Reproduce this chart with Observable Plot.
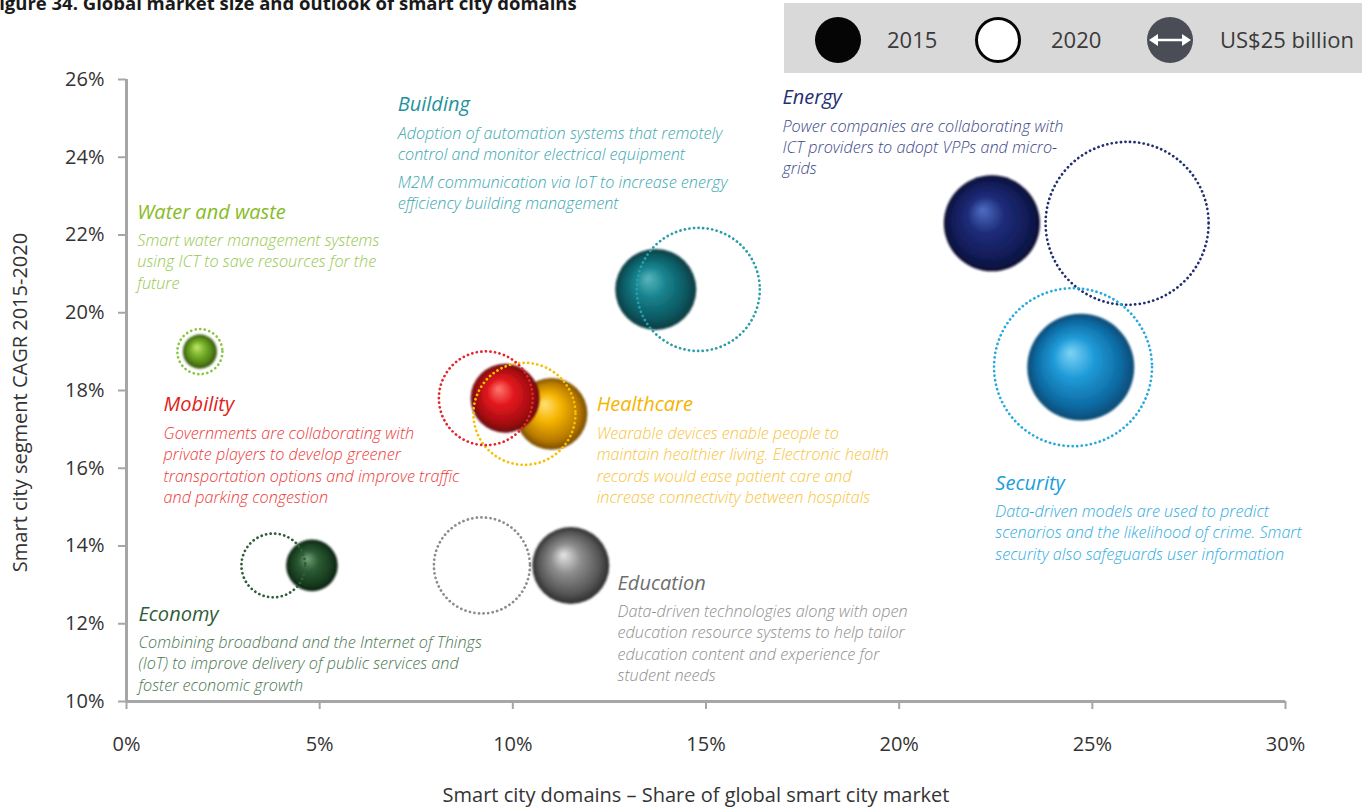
<!DOCTYPE html>
<html>
<head>
<meta charset="utf-8">
<script src="https://cdn.jsdelivr.net/npm/d3@7"></script>
<script src="https://cdn.jsdelivr.net/npm/@observablehq/plot@0.6"></script>
<style>
  body { margin: 0; background: #fff; font-family: "Open Sans", sans-serif; }
  #wrap { position: relative; width: 1367px; height: 808px; overflow: hidden; }
  #chart { position: absolute; left: 0; top: 0; }
  #title { position: absolute; left: -11px; top: -6px; font-size: 18.5px; font-weight: 700; line-height: 18px; color: #1a1a1a; white-space: nowrap; }
  #legend { position: absolute; left: 784px; top: 3px; width: 578px; height: 70px; background: #d9d9d9; }
  #legend .sw { position: absolute; top: 14px; width: 46px; height: 46px; border-radius: 50%; box-sizing: border-box; }
  #legend .lab { position: absolute; top: 1px; line-height: 70px; font-size: 22px; color: #3a3a3a; white-space: nowrap; }
</style>
</head>
<body>
<div id="wrap">
  <div id="chart"></div>
  <div id="title">Figure 34. Global market size and outlook of smart city domains</div>
  <div id="legend">
    <div class="sw" style="left:31px;background:#050505;"></div>
    <div class="lab" style="left:103px;">2015</div>
    <div class="sw" style="left:191px;background:#fff;border:3px solid #050505;"></div>
    <div class="lab" style="left:267px;">2020</div>
    <div class="sw" style="left:363px;background:#4a4d55;">
      <svg width="46" height="46" viewBox="0 0 46 46">
        <line x1="8" y1="23" x2="38" y2="23" stroke="#fff" stroke-width="2.5"/>
        <path d="M2,23 L11,17 L11,29 Z" fill="#fff"/>
        <path d="M44,23 L35,17 L35,29 Z" fill="#fff"/>
      </svg>
    </div>
    <div class="lab" style="left:436px;">US$25 billion</div>
  </div>
</div>
<script>
// ---- Data ----
const domains   = ["Water and waste", "Building", "Energy", "Security", "Mobility", "Healthcare", "Economy", "Education"];
const keys      = ["water", "building", "energy", "security", "mobility", "healthcare", "economy", "education"];
// Share of global smart city market (%)
const share2015 = [1.9, 13.7, 22.4, 24.7, 9.8, 11.0, 4.8, 11.5];
const share2020 = [1.9, 14.8, 25.9, 24.5, 9.3, 10.3, 3.8, 9.2];
// Segment CAGR 2015-2020 (%)
const cagr      = [19.0, 20.6, 22.3, 18.6, 17.8, 17.4, 13.5, 13.5];
// Market size (US$ billion)
const size2015  = [13.7, 77.5, 109, 135, 56, 61, 31.5, 70];
const size2020  = [24, 179, 314, 295, 104, 123, 48, 109];
const xTicks    = [0, 5, 10, 15, 20, 25, 30];
const yTicks    = [10, 12, 14, 16, 18, 20, 22, 24, 26];

const descriptions = [
  "Smart water management systems\nusing ICT to save resources for the\nfuture",
  "Adoption of automation systems that remotely\ncontrol and monitor electrical equipment",
  "Power companies are collaborating with\nICT providers to adopt VPPs and micro-\ngrids",
  "Data-driven models are used to predict\nscenarios and the likelihood of crime. Smart\nsecurity also safeguards user information",
  "Governments are collaborating with\nprivate players to develop greener\ntransportation options and improve traffic\nand parking congestion",
  "Wearable devices enable people to\nmaintain healthier living. Electronic health\nrecords would ease patient care and\nincrease connectivity between hospitals",
  "Combining broadband and the Internet of Things\n(IoT) to improve delivery of public services and\nfoster economic growth",
  "Data-driven technologies along with open\neducation resource systems to help tailor\neducation content and experience for\nstudent needs"
];
const descriptions2 = ["", "M2M communication via IoT to increase energy\nefficiency building management", "", "", "", "", "", ""];

// ---- Layout: annotation anchors (in data units: share %, CAGR %) ----
const labelX = [0.28, 7.02, 16.98, 22.49, 0.96, 12.17, 0.31, 12.71];
const labelY = [22.42, 25.18, 25.36, 15.45, 17.46, 17.46, 12.08, 12.88];

// ---- Styles ----
const sphere = {
  water:      ["#c6e872", "#7db82d", "#4f7f15", "#2f500a"],
  building:   ["#5cb6be", "#16838e", "#0b5760", "#063a40"],
  energy:     ["#4f6fc4", "#1e2c7a", "#111b55", "#080e33"],
  security:   ["#7fd4f6", "#1f9bd8", "#0d6aa2", "#064a74"],
  mobility:   ["#ff7b6e", "#e3181e", "#a60c10", "#680508"],
  healthcare: ["#ffe27a", "#f6b500", "#b87a00", "#7a4c00"],
  economy:    ["#76a37a", "#2d5c36", "#173b1e", "#0b2010"],
  education:  ["#e6e6e6", "#8e8e8e", "#555", "#2e2e2e"]
};
const ringColor  = {water:"#8cc63f", building:"#2a9ea8", energy:"#222f6e", security:"#29a9e0", mobility:"#e3262a", healthcare:"#f5c000", economy:"#2f5e37", education:"#8c8c8c"};
const titleColor = {water:"#86bc25", building:"#1f929c", energy:"#252f73", security:"#1ba0dc", mobility:"#e32119", healthcare:"#f5b400", economy:"#2f5d35", education:"#6e6e6e"};
const descColor  = {water:"#95c84c", building:"#3ba7b0", energy:"#3c4787", security:"#30abe0", mobility:"#ea3a38", healthcare:"#f7c43c", economy:"#4a7650", education:"#8e8e8e"};

const rows = domains.map((d, i) => ({
  domain: d, key: keys[i],
  share2015: share2015[i], share2020: share2020[i], cagr: cagr[i],
  size2015: size2015[i], size2020: size2020[i],
  lx: labelX[i], ly: labelY[i],
  desc: descriptions[i], desc2: descriptions2[i]
}));

const pct = d => d + "%";
const FONT = '"Open Sans", sans-serif';
const DESC_FS = 16.2, DESC_LH = 1.315;

const chart = Plot.plot({
  width: 1367, height: 808,
  marginLeft: 126, marginRight: 82, marginTop: 79, marginBottom: 107,
  style: {fontFamily: FONT, background: "transparent", overflow: "visible"},
  x: {domain: [0, 30], label: null},
  y: {domain: [10, 26], label: null},
  r: {type: "sqrt", domain: [0, 25], range: [0, 23]},
  color: {type: "identity"},
  marks: [
    Plot.axisX({ticks: xTicks, tickFormat: pct, tickSize: 8, tickPadding: 27, fontSize: 20, stroke: "#a6a6a6", strokeWidth: 2, fill: "#333", label: null}),
    Plot.axisY({ticks: yTicks, tickFormat: pct, tickSize: 8, tickPadding: 14, fontSize: 20, stroke: "#a6a6a6", strokeWidth: 2, fill: "#333", label: null}),
    Plot.ruleX([0], {y1: 10, y2: 26, stroke: "#a6a6a6", strokeWidth: 3}),
    Plot.ruleY([10], {x1: 0, x2: 30, stroke: "#a6a6a6", strokeWidth: 3}),
    // annotation titles and descriptions
    Plot.text(rows, {x: "lx", y: "ly", text: "domain", textAnchor: "start", lineAnchor: "bottom",
      fontSize: 20, fontStyle: "italic", fill: d => titleColor[d.key], style: "letter-spacing:-0.4px"}),
    Plot.text(rows, {x: "lx", y: "ly", text: "desc", textAnchor: "start", lineAnchor: "top", dy: 12.4,
      lineHeight: DESC_LH, fontSize: DESC_FS, fontStyle: "italic", fontWeight: 300, fill: d => descColor[d.key]}),
    Plot.text(rows.filter(d => d.desc2), {x: "lx", y: "ly", text: "desc2", textAnchor: "start", lineAnchor: "top", dy: 61,
      lineHeight: DESC_LH, fontSize: DESC_FS, fontStyle: "italic", fontWeight: 300, fill: d => descColor[d.key]}),
    // 2015 spheres
    Plot.dot(rows, {x: "share2015", y: "cagr", r: "size2015", fill: d => `url(#sph-${d.key})`}),
    // 2020 dotted rings
    Plot.dot(rows, {x: "share2020", y: "cagr", r: "size2020", fill: "none", stroke: d => ringColor[d.key],
      strokeWidth: 2.7, strokeDasharray: "0.1 4.5", strokeLinecap: "round"}),
    // axis titles
    Plot.text(["Smart city domains \u2013 Share of global smart city market"], {text: d => d, frameAnchor: "bottom",
      lineAnchor: "bottom", textAnchor: "middle", dx: -10, dy: 100, fontSize: 20, fill: "#333"}),
    Plot.text(["Smart city segment CAGR 2015-2020"], {text: d => d, frameAnchor: "left", rotate: -90,
      textAnchor: "middle", lineAnchor: "middle", dx: -106, dy: 12, fontSize: 20, fill: "#333"})
  ]
});

const svgEl = chart.tagName.toLowerCase() === "svg" ? chart : chart.querySelector("svg");
const defs = d3.select(svgEl).insert("defs", ":first-child");
for (const k of keys) {
  const c = sphere[k];
  const g = defs.append("radialGradient").attr("id", `sph-${k}`)
    .attr("cx", "50%").attr("cy", "50%").attr("r", "50%").attr("fx", "40%").attr("fy", "36%");
  [[0, c[0]], [0.38, c[1]], [0.8, c[2]], [1, c[3]]].forEach(([o, col]) =>
    g.append("stop").attr("offset", o).attr("stop-color", col));
}
const f = defs.append("filter").attr("id", "soft").attr("x", "-10%").attr("y", "-10%").attr("width", "120%").attr("height", "120%");
f.append("feGaussianBlur").attr("stdDeviation", 0.9);
d3.select(svgEl).selectAll("circle").filter(function () {
  return (this.getAttribute("fill") || "").startsWith("url(#sph");
}).attr("filter", "url(#soft)");

document.getElementById("chart").appendChild(chart);
</script>
</body>
</html>
